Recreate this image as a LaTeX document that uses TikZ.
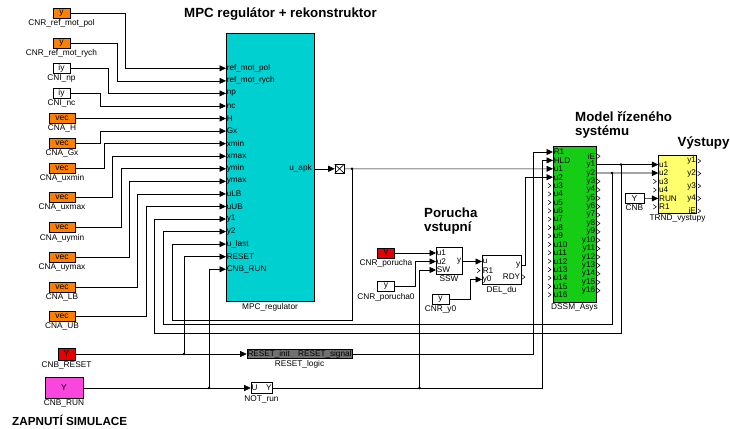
\documentclass[tikz,border=0pt]{standalone}
\usepackage{fontspec}
\setmainfont{Liberation Sans}
\usetikzlibrary{arrows.meta,positioning}
\definecolor{SLorange}{RGB}{255,128,0}
\definecolor{SLred}{RGB}{228,0,0}
\definecolor{SLcyan}{RGB}{0,208,208}
\definecolor{SLgreen}{RGB}{20,205,20}
\definecolor{SLyellow}{RGB}{255,255,110}
\definecolor{SLmagenta}{RGB}{250,70,220}
\definecolor{SLgray}{RGB}{112,112,112}

\begin{document}
\begin{tikzpicture}[x=1pt, y=-1pt,
    src/.style={draw, line width=0.9pt, inner sep=0pt, minimum width=17pt, minimum height=10pt, font=\fontsize{8.5}{8.5}\selectfont},
    blk/.style={draw, line width=0.6pt, inner sep=0pt},
    lbl/.style={inner sep=0.5pt, font=\fontsize{8.3}{9}\selectfont},
    pin/.style={inner sep=0.6pt, font=\fontsize{8.2}{9}\selectfont},
    title/.style={inner sep=0pt, font=\fontsize{13.3}{14.5}\selectfont\bfseries, align=left},
    wire/.style={line width=0.6pt},
    arrow/.style={wire, -{Triangle[length=6.5pt, width=6pt]}},
    open/.style={line width=0.5pt},
    dot/.style={circle, fill, inner sep=0pt, minimum size=2.8pt}
  ]
  \useasboundingbox (0,0) rectangle (730,428);

  % nadpisy
  \node (t-mpc) [title, anchor=base west] at (184,18) {MPC regulátor + rekonstruktor};
  \node (t-por) [title, anchor=north west] at (424,207.3) {Porucha\\vstupní};
  \node (t-mod) [title, anchor=north west] at (575,111.3) {Model řízeného\\systému};
  \node (t-out) [title, anchor=base west] at (677.5,146) {Výstupy};
  \node (t-sim) [title, anchor=base west, font=\fontsize{11.7}{13}\selectfont\bfseries] at (12,425) {ZAPNUTÍ SIMULACE};

  % zdroje pro regulator
  \foreach \name/\txt/\col/\cx/\cy/\w/\lab in {
      refpol/y/SLorange/61.5/13/17/CNR\_ref\_mot\_pol,
      refrych/y/SLorange/61.5/43/17/CNR\_ref\_mot\_rych,
      cninp/iy/white/61.5/68/17/CNI\_np,
      cninc/iy/white/61.5/93/17/CNI\_nc,
      cnah/vec/SLorange/62/118.5/26/CNA\_H,
      cnagx/vec/SLorange/62/143/26/CNA\_Gx,
      cnauxmin/vec/SLorange/62/168/26/CNA\_uxmin,
      cnauxmax/vec/SLorange/62/197.5/26/CNA\_uxmax,
      cnauymin/vec/SLorange/62/227.5/26/CNA\_uymin,
      cnauymax/vec/SLorange/62/257.5/26/CNA\_uymax,
      cnalb/vec/SLorange/62/287/26/CNA\_LB,
      cnaub/vec/SLorange/62/316/26/CNA\_UB}{
    \node (\name) [src, fill=\col, minimum width=\w pt] at (\cx,\cy) {\txt};
    \node (\name-l) [lbl, below=0.5pt of \name] {\lab};
  }
  \node (cnbreset) [src, fill=SLred, minimum height=12pt] at (66.5,354) {Y};
  \node (cnbreset-l) [lbl, below=0.5pt of cnbreset] {CNB\_RESET};
  \node (cnbrun) [src, fill=SLmagenta, minimum width=38pt, minimum height=21pt] at (64,388) {Y};
  \node (cnbrun-l) [lbl, below=0.5pt of cnbrun] {CNB\_RUN};

  % MPC regulator
  \node (mpc) [blk, fill=SLcyan, minimum width=88pt, minimum height=268pt] at (270,167) {};
  \node (mpc-l) [lbl, below=1pt of mpc] {MPC\_regulator};
  \foreach \pk/\pl in {1/ref\_mot\_pol, 2/ref\_mot\_rych, 3/np, 4/nc, 5/H, 6/Gx,
      7/xmin, 8/xmax, 9/ymin, 10/ymax, 11/uLB, 12/uUB, 13/y1, 14/y2,
      15/u\_last, 16/RESET, 17/CNB\_RUN} {
    \coordinate (mpc-i\pk) at (226,{55.74+12.56*\pk});
    \node (mpc-p\pk) [pin, anchor=west] at (mpc-i\pk) {\pl};
  }
  \coordinate (mpc-o1) at (314,168.8);
  \node (mpc-q1) [pin, anchor=east] at (312.5,168.8) {u\_apk};
  \node (term) [blk, fill=white, minimum width=9pt, minimum height=8.5pt] at (339.5,168.8) {};
  \draw[wire] (term.north west) -- (term.south east) (term.north east) -- (term.south west);

  % logika reset a run
  \node (rstlog) [blk, fill=SLgray, minimum width=105pt, minimum height=9.5pt] at (299.5,354) {};
  \node (rstlog-a) [pin, anchor=west] at (rstlog.west) {RESET\_init};
  \node (rstlog-b) [pin, anchor=east] at (rstlog.east) {RESET\_signal};
  \node (rstlog-l) [lbl, below=1pt of rstlog] {RESET\_logic};
  \node (notrun) [blk, fill=white, minimum width=21pt, minimum height=11pt] at (261.5,388) {};
  \node (notrun-a) [pin, anchor=west] at (notrun.west) {U};
  \node (notrun-b) [pin, anchor=east] at (notrun.east) {Y};
  \node (notrun-l) [lbl, below=1pt of notrun] {NOT\_run};

  % porucha vstupni
  \node (porucha) [src, fill=SLred] at (386,253) {y};
  \node (porucha-l) [lbl, below=0.5pt of porucha] {CNR\_porucha};
  \node (porucha0) [src, fill=white] at (386,286.5) {y};
  \node (porucha0-l) [lbl, below=0.5pt of porucha0] {CNR\_porucha0};
  \node (cnry0) [src, fill=white] at (440.5,299) {y};
  \node (cnry0-l) [lbl, below=0.5pt of cnry0] {CNR\_y0};
  \node (ssw) [blk, fill=white, minimum width=26pt, minimum height=27pt] at (449,260.5) {};
  \node (ssw-l) [lbl, below=1pt of ssw] {SSW};
  \foreach \pk/\pl in {1/u1, 2/u2, 3/SW} {
    \coordinate (ssw-i\pk) at (436,{244.5+8.5*\pk});
    \node (ssw-p\pk) [pin, anchor=west] at (ssw-i\pk) {\pl};
  }
  \coordinate (ssw-o1) at (462,261.5);
  \node (ssw-q1) [pin, anchor=east] at (ssw-o1) {y};
  \node (del) [blk, fill=white, minimum width=39pt, minimum height=29pt] at (501.5,269.5) {};
  \node (del-l) [lbl, below=1pt of del] {DEL\_du};
  \foreach \pk/\pl in {1/u, 2/R1, 3/y0} {
    \coordinate (del-i\pk) at (482,{252.5+9*\pk});
    \node (del-p\pk) [pin, anchor=west] at (del-i\pk) {\pl};
  }
  \coordinate (del-o1) at (521,265.5);
  \coordinate (del-o2) at (521,277);
  \node (del-q1) [pin, anchor=east] at (del-o1) {y};
  \node (del-q2) [pin, anchor=east] at (del-o2) {RDY};
  \draw[open] ([shift={(-5,-2.2)}]del-i2) -- ++(3,2.2) -- ++(-3,2.2);
  \draw[open] ([shift={(1,-2.2)}]del-o2) -- ++(3,2.2) -- ++(-3,2.2);

  % model rizeneho systemu
  \node (dssm) [blk, fill=SLgreen, minimum width=43pt, minimum height=156pt] at (574.5,224) {};
  \node (dssm-l) [lbl, below=1pt of dssm] {DSSM\_Asys};
  \foreach \pk/\pl in {1/R1, 2/HLD} {
    \coordinate (dssm-i\pk) at (553,{143.6+8.4*\pk});
    \node (dssm-p\pk) [pin, anchor=west] at (dssm-i\pk) {\pl};
  }
  \foreach \pk [evaluate=\pk as \un using int(\pk-2)] in {3,...,18} {
    \coordinate (dssm-i\pk) at (553,{143.6+8.4*\pk});
    \node (dssm-p\pk) [pin, anchor=west] at (dssm-i\pk) {u\un};
  }
  \coordinate (dssm-o1) at (596,156.2);
  \node (dssm-q1) [pin, anchor=east] at (dssm-o1) {iE};
  \foreach \pk [evaluate=\pk as \un using int(\pk-1)] in {2,...,17} {
    \coordinate (dssm-o\pk) at (596,{147.8+8.4*\pk});
    \node (dssm-q\pk) [pin, anchor=east] at (dssm-o\pk) {y\un};
  }
  \foreach \pk in {5,...,18}
    \draw[open] ([shift={(-5,-2.2)}]dssm-i\pk) -- ++(3,2.2) -- ++(-3,2.2);
  \foreach \pk in {1,4,5,...,17}
    \draw[open] ([shift={(1,-2.2)}]dssm-o\pk) -- ++(3,2.2) -- ++(-3,2.2);

  % vystupy
  \node (trnd) [blk, fill=SLyellow, minimum width=38.4pt, minimum height=58pt] at (677.5,184) {};
  \node (trnd-l) [lbl, below=1pt of trnd] {TRND\_vystupy};
  \foreach \pk/\pl in {1/u1, 2/u2, 3/u3, 4/u4, 5/RUN, 6/R1} {
    \coordinate (trnd-i\pk) at (658.3,{156.15+8.45*\pk});
    \node (trnd-p\pk) [pin, anchor=west] at (trnd-i\pk) {\pl};
  }
  \foreach \pk/\pl in {1/y1, 2/y2, 3/y3, 4/y4, 5/iE} {
    \coordinate (trnd-o\pk) at (696.7,{148.5+12.5*\pk});
    \node (trnd-q\pk) [pin, anchor=east] at (trnd-o\pk) {\pl};
    \draw[open] ([shift={(1,-2.2)}]trnd-o\pk) -- ++(3,2.2) -- ++(-3,2.2);
  }
  \foreach \pk in {3,4,6}
    \draw[open] ([shift={(-5,-2.2)}]trnd-i\pk) -- ++(3,2.2) -- ++(-3,2.2);
  \node (cnb) [src, fill=white, minimum width=19pt] at (634.5,198.4) {Y};
  \node (cnb-l) [lbl, below=0.5pt of cnb] {CNB};

  % spoje
  \foreach \src/\vx/\pk in {refpol/125/1, refrych/117/2, cninp/108/3, cninc/100/4,
      cnagx/100/6, cnauxmin/104/7, cnauxmax/112/8, cnauymin/121/9,
      cnauymax/129/10, cnalb/137/11, cnaub/146/12}
    \draw[arrow] (\src.east) -- (\src.east -| \vx,0) |- (mpc-i\pk);
  \draw[arrow] (cnah.east) -- (mpc-i5);

  \coordinate (jua) at (352,168.8);
  \coordinate (jrst) at (184,354);
  \coordinate (jrun) at (209,388);
  \coordinate (jsw) at (419.5,388);
  \coordinate (jy1) at (dssm-o2 -| 621,0);
  \coordinate (jy2) at (dssm-o3 -| 612,0);

  \draw[arrow] (mpc-o1) -- (term.west);
  \draw[arrow] (term.east) -- (dssm-i3);
  \draw[arrow] (jua) |- (172,320) |- (mpc-i15);
  \draw[arrow] (jy2) |- (163,324) |- (mpc-i14);
  \draw[arrow] (jy1) |- (154,333) |- (mpc-i13);
  \draw[arrow] (cnbreset.east) -- (rstlog.west);
  \draw[arrow] (jrst) |- (mpc-i16);
  \draw[arrow] (cnbrun.east) -- (notrun.west);
  \draw[arrow] (jrun) |- (mpc-i17);
  \draw[arrow] (rstlog.east) -- (rstlog.east -| 533,0) |- (dssm-i1);
  \draw[arrow] (notrun.east) -- (notrun.east -| 542,0) |- (dssm-i2);
  \draw[arrow] (jsw) |- (ssw-i3);
  \draw[arrow] (porucha.east) -- (ssw-i1);
  \draw[arrow] (porucha0.east) -- (porucha0.east -| 415,0) |- (ssw-i2);
  \draw[arrow] (ssw-o1) -- (del-i1);
  \draw[arrow] (cnry0.east) -- (cnry0.east -| 470,0) |- (del-i3);
  \draw[arrow] (del-o1) -- (del-o1 -| 525,0) |- (dssm-i4);
  \draw[arrow] (dssm-o2) -- (trnd-i1);
  \draw[arrow] (dssm-o3) -- (trnd-i2);
  \draw[arrow] (cnb.east) -- (trnd-i5);
  \foreach \jn in {jua, jrst, jrun, jsw, jy1, jy2}
    \node (\jn-d) [dot] at (\jn) {};
\end{tikzpicture}
\end{document}
